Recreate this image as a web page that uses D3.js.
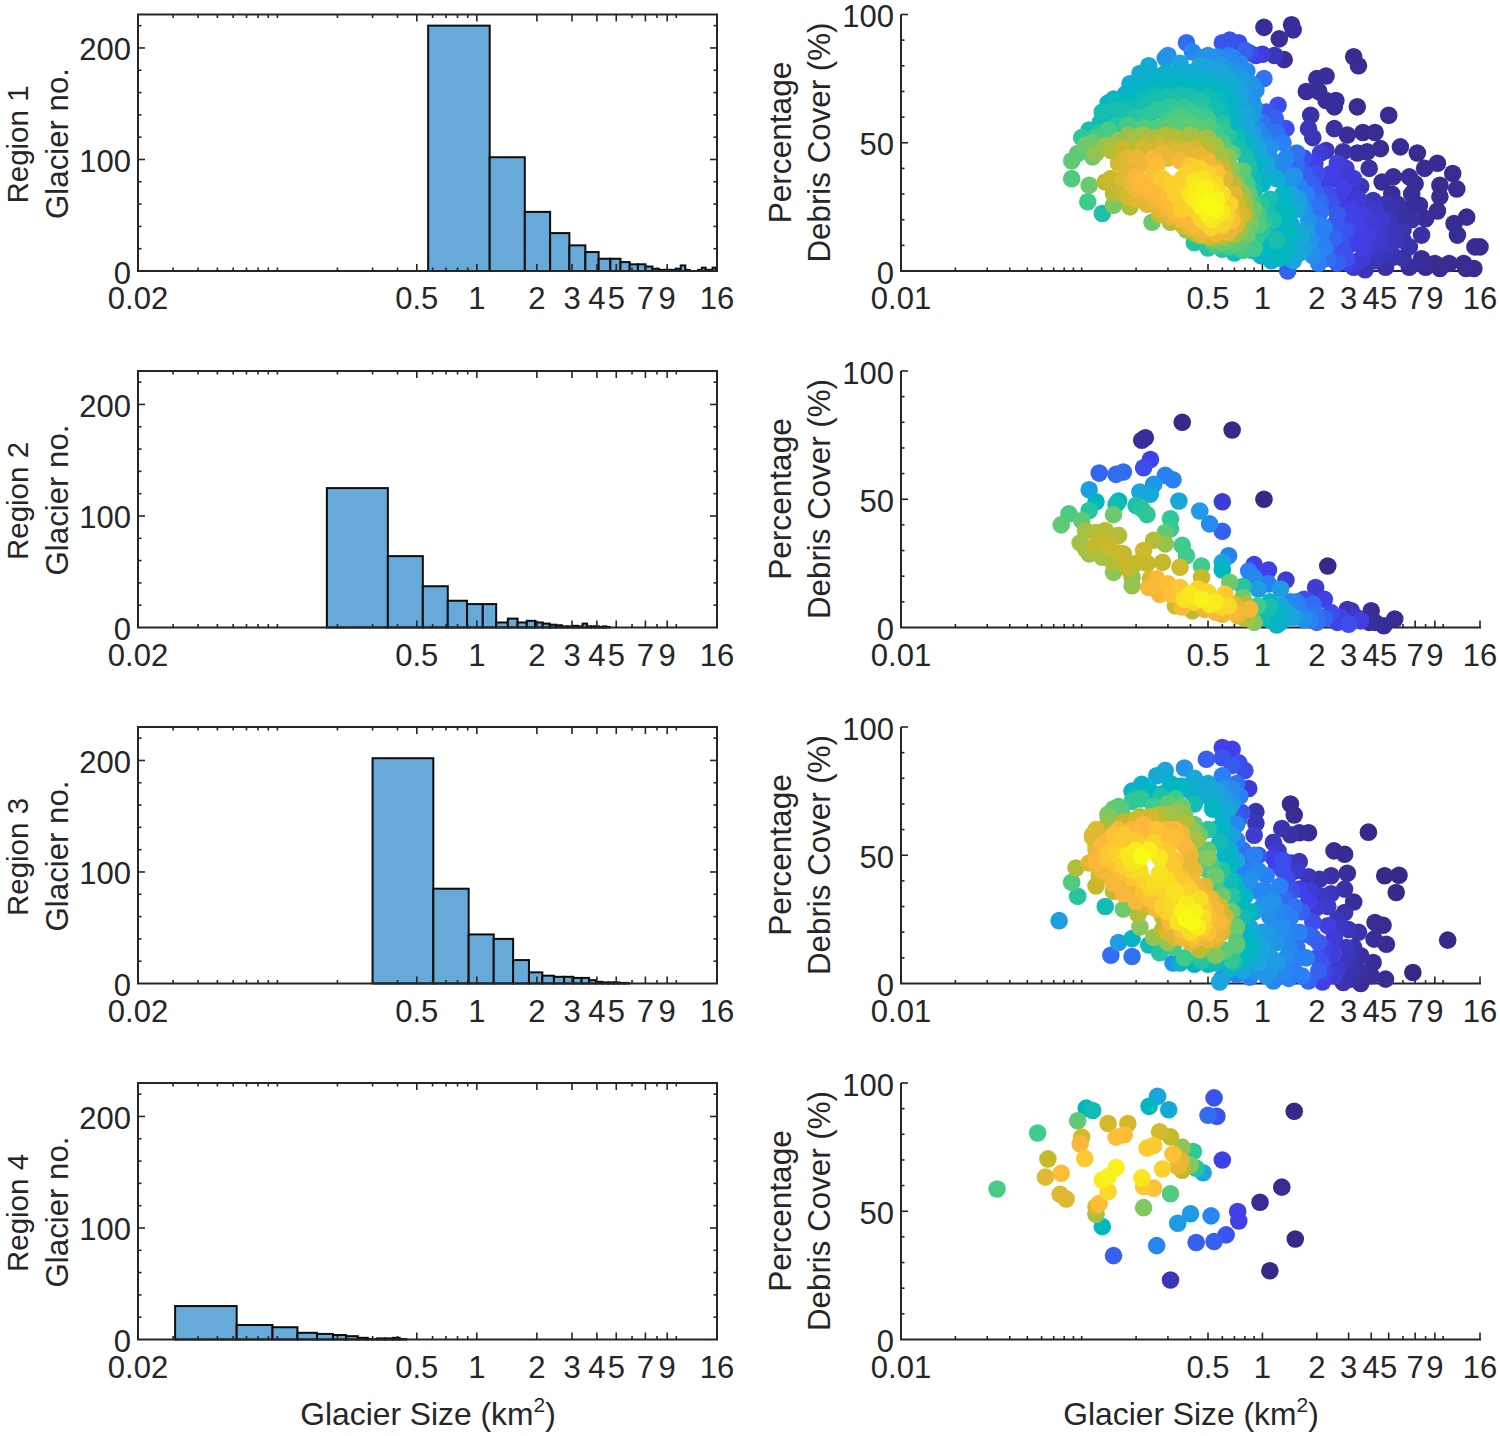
<!DOCTYPE html>
<html><head><meta charset="utf-8"><title>Glacier size and debris cover</title>
<script src="https://cdnjs.cloudflare.com/ajax/libs/d3/7.8.5/d3.min.js"></script>
<style>html,body{margin:0;background:#fff}svg{display:block}text{font-family:"Liberation Sans",Arial,sans-serif;fill:#262626}</style>
</head><body><svg id="c" width="1500" height="1436"></svg>
<script>
const regions=["Region 1","Region 2","Region 3","Region 4"];
const histTickValues=[0.02,0.5,1,2,3,4,5,7,9,16];
const scatterTickValues=[0.01,0.5,1,2,3,4,5,7,9,16];
const minorLogTicks=[0.02,0.03,0.04,0.05,0.06,0.07,0.08,0.09,0.1,0.2,0.3,0.4,0.5,0.6,0.7,0.8,0.9,1,2,3,4,5,6,7,8,9,10];
const histYTicks=[0,100,200];
const scatterYTicks=[0,50,100];
const parulaPositions=[0,.1,.2,.3,.42,.55,.65,.75,.86,.93,1];
const parulaStops=["#352a87","#4140e8","#2a80f5","#1aa5dc","#02b8c0","#3ecb8c","#80c860","#c4b92a","#feb83a","#f8d828","#f8fb14"];

const hist1Edges=[0.57,1.16,1.74,2.33,2.91,3.5,4.08,4.67,5.25,5.84,6.42,7.01,7.59,8.18,8.76,9.35,9.93,10.52,11.1,11.69,12.27,12.86,13.44,14.03,14.61,15.2,15.78];
const hist1Counts=[220,102,53,34,23,17,11,11,8,6,6,4,2,1,1,1,2,5,1,0,0,1,3,1,1,3];
const hist2Edges=[0.177,0.358,0.536,0.715,0.893,1.071,1.25,1.43,1.6,1.78,1.96,2.14,2.32,2.5,2.67,2.85,3.03,3.21,3.39,3.57,3.74,3.92,4.1,4.28,4.46,4.64];
const hist2Counts=[125,64,37,24,21,21,4.5,8,4.5,6,4.5,3.5,2.5,2,1,1,1.5,1,3.5,1,1,1,0.5,1,0.5];
const hist3Edges=[0.3,0.605,0.91,1.215,1.52,1.825,2.13,2.435,2.74,3.045,3.35,3.655,3.96,4.265,4.57,4.875,5.18,5.485,5.79];
const hist3Counts=[202,85,44,40,21,10,7,6,6,5,5,3,1.5,1,1,1,0.5,0.5];
const hist4Edges=[0.0307,0.0625,0.0945,0.126,0.158,0.19,0.221,0.253,0.284,0.316,0.347,0.379,0.41,0.442];
const hist4Counts=[30,13,11,6,5,4,3,1.5,0.4,1,1,1.5,0.4];

// [area km2, debris %, density]
const scatter1=[
[1.02,95,.02],[1.24,90.5,.02],[1.45,96,.02],[1.48,94,.02],[1.32,82.4,.02],[1.17,84,.05],[1,84.5,.08],[0.85,85,.12],
[3.2,83.5,.01],[3.4,80,.01],[2.25,76,.02],[2,75,.02],[1.75,70,.02],[2.05,70,.02],[2.25,66.5,.02],[2.55,66.5,.02],[2.5,64,.02],[3.35,64,.01],[5,60.7,.01],[1.85,60.7,.03],[1.8,55.5,.05],[2.5,55.5,.03],[2.95,53,.02],[3.6,54,.01],[4.2,54,.01],[1.9,52,.05],[2.25,47,.05],[2.8,46.5,.03],[3.35,46,.02],[4.5,47.7,.01],[5.8,48.4,.01],[3.8,46.5,.02],[7.2,46,.01],[9.3,42,.01],[7.9,40,.01],[11.3,38,.01],[9.6,33.4,.01],[11.9,32,.01],[9.6,29,.01],[3.9,40,.03],[5.3,36.7,.02],[4.6,34.7,.02],[6.5,36.7,.02],[7,34,.02],[6.7,30,.02],[7.4,25.6,.02],[9.3,23.4,.01],[8,20.4,.02],[13.5,21,.01],[11.5,18.5,.01],[12,14,.01],[15,9.4,.01],[16,9.4,.01],[7.6,14,.03],[6.7,20,.03],[5.7,22,.03],[4.8,26,.04],[4.1,27.5,.05],[5.1,20,.05],[4,20,.08],[5.4,15,.05],[4.5,11,.07],[6.5,9.4,.04],[7.6,4.8,.02],[9,2.9,.01],[10.8,2.9,.01],[13,2.9,.01],[14.8,1,.01],[13.4,1,.01],[9.6,1,.01],[8,1.5,.01],[6.5,1.5,.02],[4.8,1.5,.03],[3.7,.5,.05],[3.2,1.5,.07],[5.4,5.5,.04],[4,6.8,.06],[4.4,16,.07],[3.6,22,.09],[4.2,24,.07],[5,11,.06],[3.8,14,.09],[4.6,7,.05],[6,16,.04],[5.6,26,.03],[3.4,28,.08],[3.2,36,.08],[2.9,40,.08],[2.6,42,.09],[2.4,38,.1],[2.8,32,.1],[2.3,30,.12],[3.1,24,.1],[3.4,18,.1],[3.1,12,.1],[3.6,9,.09],[2.8,8,.12],[2.9,16,.13],[2.6,22,.14],[2.5,13,.16],[2.3,5,.17],[2.6,3,.15],[2.9,5,.13],[2.2,9,.2],[2.2,17,.2],[2.1,23,.18],[2.1,27,.17],[1.9,34,.15],[1.7,38,.15],[1.7,44,.12],[1.55,46,.18],[1.75,30,.2],[1.8,20,.25],[1.85,12,.26],[1.9,6,.24],[1.6,7,.32],[1.65,14,.33],[1.55,24,.32],[1.45,30,.3],[1.5,37,.25],[1.35,44,.22],[1.3,50,.2],[1.2,54,.18],[1.35,55.5,.12],[1.22,64.6,.12],[1.18,59.4,.15],[1.02,75,.18],[1.1,48,.25],[1.05,42,.32],[1.2,36,.36],[1.3,30,.4],[1.38,22,.42],[1.4,14,.42],[1.38,8,.4],[1.38,0,.15],[1.25,5,.42],[1.2,12,.47],[1.15,20,.48],[1.1,28,.46],[1,34,.4],[0.95,42,.37],[0.87,48.4,.37],[1.05,6,.4],[1,10,.42],
[.38,89,.17],[.66,90,.13],[.6,89,.13],[.74,89,.12],[.41,85.4,.22],[.3,84,.25],[.29,83,.24],[.46,83,.25],[.56,83.5,.24],[.69,83,.22],[.82,78,.23],[.75,81,.22],[.77,75,.28],[.87,73,.26],[.92,70.5,.25],[.65,74.5,.33],
[.235,80,.35],[.21,77,.35],[.185,73,.35],[.175,69,.38],[.14,65.5,.42],[.16,66,.42],[.19,66.5,.42],[.225,70.5,.4],[.26,73,.4],[.295,77.6,.36],[.35,78,.35],[.385,74.4,.37],[.31,72,.42],[.41,77.6,.33],[.5,79,.3],[.58,77.7,.3],[.48,74.4,.36],[.55,70.5,.42],[.5,68,.45],[.46,66,.48],[.4,68,.47],[.34,68.5,.47],[.3,68,.47],[.26,66.6,.47],[.225,64.6,.47],[.19,62.7,.45],[.165,60,.45],[.145,61.4,.43],[.127,58,.44],[.11,55,.46],[.125,54,.5],[.155,56.8,.5],[.26,62.7,.52],[.31,64,.52],[.37,64,.52],[.45,63.3,.5],[.55,64,.46],[.65,60.3,.4],[.7,56,.38],[.75,53.6,.37],[.6,57.5,.5],[.5,58.8,.55],[.43,60,.55],[.35,60.7,.57],[.3,58.8,.55],[.26,55.5,.58],[.36,56.8,.6],[.45,55.5,.6],[.55,54.2,.55],[.65,52.3,.5],[.82,61.4,.3],[.9,64,.26],[.8,58,.3],[.88,54,.28],[.74,48,.47],[.82,42,.48],[.9,36,.44],[.85,30,.5],[.98,26,.5],[1.02,19,.52],[.92,13,.52],[.88,8,.48],[.7,7,.45],[.6,8.5,.5],[.5,9,.5],[.42,11,.5],
[.088,43,.6],[.088,36,.58],[.11,33.4,.62],[.108,27,.55],[.13,22.4,.48],[.135,34.7,.75],[.15,25.6,.64],[.185,25,.72],[.245,19,.62],[.105,49,.62],[.095,45.8,.6],[.115,44.5,.62],[.135,49,.68],[.18,53,.68],[.16,51,.68],[.2,48.4,.72],[.295,53,.72],[.36,51,.73],[.45,51,.72],[.55,49,.7],[.65,44.5,.65],[.78,39,.6],[.15,30,.72],[.145,36,.76],[.18,29,.78],[.165,46,.72],[.24,51,.72],[.72,34,.62],[.84,30,.6],[.9,24,.62],[.86,19,.64],[.82,14,.62],[.72,11,.6],[.6,11,.62],[.52,12,.6],[.44,14,.62],[.38,16,.68],[.31,19,.72],[.27,22,.76],
[.2,37,.85],[.22,42,.83],[.25,44,.85],[.28,46,.82],[.24,35,.86],[.27,32,.86],[.3,30,.87],[.32,27,.87],[.34,24,.87],[.38,21,.86],[.42,18,.85],[.48,16,.84],[.55,14.5,.83],[.65,15,.82],[.72,18,.8],[.78,22,.78],[.72,26,.78],[.33,46,.8],[.38,47,.8],[.45,45,.82],[.5,43,.84],[.55,40,.82],[.62,36,.8],[.7,30,.8],[.22,30,.83],[.2,32,.84],[.26,27,.82],[.29,24,.82],[.31,21,.8],[.36,18,.78],[.42,15,.75],[.62,38,.76],[.69,34,.74],[.75,27,.74],[.8,26,.7],
[.36,36,.92],[.38,38,.92],[.4,41,.9],[.45,40,.92],[.5,38,.92],[.35,32,.9],[.38,27,.9],[.42,24,.92],[.46,20,.92],[.52,17,.92],[.6,18,.92],[.63,21,.92],[.66,26,.92],[.6,30,.94],[.55,34,.93],[.25,38,.88],[.28,36,.9],[.31,34,.91],[.33,30,.92],[.36,24,.91],[.56,38,.88],[.26,41,.87],[.68,20,.88],
[.46,30,.98],[.5,27,1],[.52,25,1],[.48,32,.98],[.44,33,.97],[.55,24,.99],[.5,22,.98],[.42,35,.96],[.46,25,.99],[.56,28,.98],[.4,30,.96],[.53,20,.96],[.6,23,.96],[.47,36,.95],[.52,32,.96],[.42,28,.97],
[.24,76,.36],[.27,76,.37],[.33,75,.38],[.39,77,.35],[.45,76,.34],[.53,75,.33],[.62,76,.3],[.7,75,.28],
[.2,71,.38],[.23,73,.38],[.28,72,.4],[.34,72,.42],[.39,71,.42],[.44,72,.4],[.5,73,.38],[.59,71,.36],[.66,71,.36],[.72,72,.3],[.8,70,.26],
[.15,67,.43],[.18,65,.43],[.22,67,.44],[.25,69,.44],[.28,65,.46],[.32,66,.48],[.37,68,.47],[.43,65,.48],[.58,67,.43],[.62,68,.4],[.68,66,.38],[.76,68,.3],[.84,66,.26],
[.13,62,.46],[.155,63,.46],[.17,62,.47],[.2,60,.5],[.24,61,.52],[.28,62,.52],[.34,63,.53],[.4,62,.53],[.48,61,.53],[.6,62,.44],[.7,63,.36],[.78,61,.32],[.86,60,.27],
[.1,52,.52],[.12,52,.56],[.14,55,.56],[.18,57,.56],[.22,56,.58],[.3,56,.6],[.33,58,.58],[.4,57,.6],[.5,56,.58],[.6,55,.52],[.7,52,.42],[.85,52,.3],[.95,55,.22],
[.115,50,.62],[.15,49,.7],[.2,52,.7],[.22,53,.7],[.26,52,.72],[.33,52,.73],[.4,53,.7],[.5,52,.68],[.6,50,.58],[.72,52,.44],[.8,50,.38],[.92,50,.28],[1.02,52,.22],
[.12,46,.68],[.145,47,.72],[.17,48,.76],[.22,48,.78],[.27,49,.78],[.31,48,.78],[.42,48,.78],[.5,47,.74],[.6,45,.7],[.68,46,.58],[.8,45,.46],[.95,47,.3],[1.1,44,.25],
[.16,42,.78],[.18,44,.8],[.2,44,.82],[.3,44,.82],[.35,43,.85],[.6,41,.74],[.68,40,.66],[.75,38,.58],[.85,40,.46],[.95,37,.38],[1.1,38,.3],[1.2,42,.22],[1.4,41,.17],
[.17,36,.8],[.19,34,.83],[.18,40,.8],[.21,35,.86],[.23,33,.86],[.2,28,.8],[.23,26,.8],[.25,30,.85],[.28,28,.86],[.16,33,.76],[.3,26,.85],[.33,22,.85],[.27,24,.8],[.36,20,.84],[.4,17,.82],[.46,14,.8],[.52,13,.76],[.6,13.5,.74],[.7,14,.7],[.75,16,.7],
[.72,22,.8],[.78,25,.7],[.82,22,.68],[.88,27,.55],[.78,30,.68],[.74,32,.68],[.82,34,.56],[.9,31,.46],
[.95,22,.55],[1,16,.5],[1.05,24,.47],[.9,9,.55],[.78,8,.55],[.75,10,.58],[.66,9.5,.56],[.55,10,.56],[.95,18,.58],[1.08,14,.44],[1.15,9,.42],[1.12,4,.36],[.98,6,.4],[1.25,17,.4],[1.3,11,.38],[1.45,18,.36],[1.52,12,.32],[1.48,4,.3],[1.7,9,.28],[1.75,16,.28],[1.7,24,.26],[1.6,28,.28],[1.35,26,.38],[1.25,24,.42],[1.4,35,.26],[1.6,33,.2],[1.3,41,.22],[1.55,41,.17],[1.9,26,.18],[2,30,.15],[2.05,18,.2],[2.1,13,.2],[2.05,3,.2],[2.3,10,.16],[2.4,26,.13],[2.5,18,.14],[2.7,12,.13],[2.7,7,.13],[3,19,.1],[3,10,.09],[2,38,.12],[2.1,46,.08],[1.95,42,.1],[2.3,35,.09],[2.6,36,.08],[2.6,29,.1],[2.9,26,.08],[3.2,30,.06],[3.5,33,.05],[3.3,15,.09],[3.5,12,.09],[3.9,10,.08],[3.9,25,.06],[4.2,18,.08],[4.6,20,.07],[4.4,13,.07],[4.2,4,.05],[5,8,.05],[5.5,12,.05],[5,24,.04],[5.2,30,.02],[6,12,.04],[6.4,24,.02],[6,5,.03],[3.6,5,.08],[3,3,.1],[3.4,4,.08],
[.75,70,.28],[.82,72,.24],[.88,66,.24],[.82,56,.3],[.9,60,.22],[1,58,.18],[1.05,62,.14],[1.1,54,.18],[.78,50,.4],[.7,78,.25],[.8,86,.15],[.65,84,.2],[.92,84,.1],[.45,80,.3],[.5,84,.25],[.6,80,.27],[.68,78,.24],[.35,81,.3]
];
const scatter2=[
[.36,80,0],[.68,77,0],[1.02,50,0],[2.3,24,0],[.215,73,.02],[.225,74,.02],[.24,65.5,.1],[.22,62.3,.12],[.125,60.2,.16],[.155,59.7,.17],[.17,60.6,.17],[.29,59.3,.2],[.32,57.6,.2],[.25,55.8,.26],[.21,52.8,.3],[.24,52,.32],[.11,53.7,.28],[.345,49.3,.32],[.6,49,.08],[.45,45.4,.27],[.51,40.4,.23],[.6,37.5,.15],[.65,28,.2],[.6,25.4,.3],[.6,22.4,.42],[.9,24.5,.1],[1.08,22.4,.1],[.84,22,.2],[.9,19.3,.22],[1.35,18.5,.08],[1.08,17,.2],[.95,15,.28],[1.97,15.6,.08],[1.26,15,.27],
[.12,49,.42],[.16,49.3,.42],[.155,48,.45],[.11,45.6,.5],[.2,47.6,.48],[.215,46.3,.5],[.23,44,.52],[.085,44.3,.57],[.077,40,.6],[.1,41.7,.6],[.15,44,.62],[.31,42.4,.52],[.31,38.5,.53],[.29,37,.6],[.36,32,.55],[.38,28,.55],[.46,24,.55],[.66,17.6,.62],[.78,16,.5],[.78,11.7,.62],[.94,8.5,.55],[1.1,8,.47],[1,4,.45],[1.1,3,.42],[1.2,1,.38],
[.105,37.8,.7],[.098,33,.7],[.105,30.6,.7],[.11,28.7,.68],[.13,27.4,.7],[.135,37.8,.73],[.16,35.9,.73],[.12,32.6,.75],[.14,32,.76],[.16,29,.76],[.17,28.7,.74],[.25,34,.72],[.29,32.6,.68],[.22,30,.77],[.2,25,.75],[.28,25.4,.75],[.35,23.5,.77],[.23,25,.75],[.15,21.5,.66],[.19,19.6,.68],[.19,16.3,.68],[.46,19.6,.76],[.9,2,.66],[.41,6.5,.74],[.33,8.5,.77],
[.26,19,.85],[.3,17,.87],[.235,15.6,.85],[.27,13,.84],[.35,15.6,.9],[.4,13,.96],[.37,11,.95],[.42,9.8,.92],[.5,13.7,.93],[.62,13,.9],[.51,9,.96],[.65,8.5,.93],[.85,7.2,.84],[.6,5.2,.82],[.73,4.6,.8],[.46,11,.98],[.55,10,.97],[.7,6,.85],[.44,15,.92],[.31,13,.88],[.36,8,.86],
[1.7,11,.12],[2.2,11,.1],[1.43,10,.22],[1.26,8.5,.3],[1.15,7,.36],[1.6,7,.2],[1.95,6,.18],[2,2,.18],[2.4,5.8,.12],[2.95,7,.05],[3.1,6.5,.05],[3.5,2.6,.09],[3,1.3,.12],[2.6,2,.1],[1.43,4,.3],[1.7,3,.24],[1.26,2,.38],[4,6.5,.02],[5.4,3.3,.01],[4.2,2,.02],[4.7,.7,.02],[3.9,2,.02],[2.2,3.5,.16],[1.9,9,.17],[1.55,10,.2],[2.7,4,.1],[3.3,4,.07],
[1.1,5,.42],[1.2,6,.38],[1.35,6,.32],[1.5,4,.28],[1.85,3,.2],[1.1,10,.4],[.8,9,.72],[.7,9,.8],[.75,6,.82],[.6,8,.92],[.8,3.5,.72],[.55,6,.85],[.48,7,.82],[.42,12,.95],[.47,14,.92],[.33,13,.88],[.28,16,.82],[.24,19,.78],[.15,25,.72],[.18,23,.75],[.13,35,.73],[.12,37,.72],[.115,30,.72]
];
const scatter3=[
[10.6,16.9,0],[6.8,4.3,0],[3.86,59,0],[4.75,42,0],[5.7,42.2,0],[5.5,35.5,0],[4.2,23.8,.01],[4.65,22.7,.01],[4.15,17.3,.02],[4.85,15.3,.01],[4.1,8.2,.02],[3.5,10.8,.03],[3,9.5,.05],[4.8,1.7,.01],[4,3,.02],[3.5,0,.02],[2.8,.4,.04],[3.1,1.7,.03],[2.49,51.7,.01],[2.85,50.4,.01],[2.95,43,.02],[2.4,42,.03],[2.07,40.6,.04],[1.8,41.6,.05],[2.85,36.8,.03],[3.2,31.8,.02],[2.85,27.7,.04],[2.3,30,.07],[2,29.6,.08],[2.3,22.5,.09],[3,21,.05],[3.4,20,.04],[2.5,18,.08],[2.9,14,.06],[2.2,14.7,.1],[1.43,70,.01],[1.5,65.7,.01],[1.8,58.8,.01],[1.6,58.8,.02],[1.43,58,.03],[1.28,60.4,.04],[1.15,55,.06],[1.22,51.7,.07],[1.6,47.5,.05],[1.45,47,.06],[.92,67,.04],[.92,62.5,.05],[.9,57.8,.08],[.84,76,.08],[1.15,49,.1],[1.2,46,.1],[2.6,6,.07],[2.2,5,.11],[2.4,11,.09],[3.1,5,.04],[2,10,.13],[2.6,25,.05],[2.1,34,.06],[2.4,35,.05],
[.8,83,.12],[.74,86,.12],[.6,92,.1],[.68,91.3,.1],[.68,85,.14],[.6,88,.13],[.49,87.4,.15],[.6,81,.2],[.77,66.6,.13],[.74,64,.14],[1.37,40.6,.12],[1.6,36.8,.1],[1.33,33,.17],[1.8,32,.1],[1.43,25.7,.2],[1.75,19.2,.16],[2.05,16,.14],[1.75,10,.2],[2.05,5,.15],[1.65,3,.2],[2.15,.6,.1],[1.8,1,.16],[1.3,48,.12],[1.25,38,.2],[1.15,32,.25],[1.05,42,.2],[.9,50,.2],[.95,44,.22],[1.1,26,.24],[1.28,22,.24],[1.2,16,.26],[1.4,14,.22],[1.48,7,.2],[1.3,4,.22],[1.05,3,.25],[1.12,10,.28],[1,14,.3],[.95,8,.3],[1.6,20,.2],[1.5,30,.18],
[.37,84,.25],[.29,83,.32],[.26,81,.33],[.215,77.7,.36],[.19,75,.4],[.42,80,.33],[.31,78,.4],[.355,77,.42],[.5,78,.33],[.56,75,.3],[.62,72,.27],[.65,68,.33],[.6,62,.38],[.53,68,.42],[.5,60,.5],[.58,55,.45],[.66,52,.37],[.72,48,.3],[.7,40,.4],[.8,34,.38],[.85,28,.42],[.82,20,.4],[.88,14,.42],[.77,10,.42],[.7,8,.45],[.58,.6,.3],[.6,2.2,.26],[.66,5.5,.35],[.5,7.5,.42],[.42,7.5,.4],[.35,8,.35],[.32,8,.25],
[.16,16,.28],[.145,11,.17],[.19,10.5,.18],[.19,17.5,.4],[.075,24.5,.28],[.135,30,.45],[.095,34,.5],[.088,39.5,.58],[.093,45,.72],[.17,29,.62],
[.235,15,.45],[.27,12,.5],[.32,14,.55],[.37,10,.55],[.46,9,.5],[.45,13,.72],[.55,11,.65],[.62,13,.6],[.72,15,.6],[.68,9,.52],
[.21,22,.66],[.25,18,.68],[.3,16,.68],[.205,27,.72],[.72,22,.62],[.68,28,.62],[.6,34,.62],[.55,40,.56],[.52,46,.55],[.5,52,.6],[.45,58,.62],[.42,62,.58],[.36,69,.62],[.3,70,.6],[.25,69,.55],[.21,72,.52],[.17,65,.6],[.165,68,.58],[.14,62,.68],[.12,54,.75],[.13,60,.72],[.21,65,.7],[.26,63,.75],[.36,62,.72],[.43,56,.7],[.5,49,.66],[.55,42,.62],
[.11,47,.8],[.12,52,.82],[.115,57,.8],[.14,56,.84],[.16,60,.85],[.19,60,.86],[.23,59,.86],[.28,58,.87],[.33,57,.87],[.37,54,.85],[.4,50,.82],[.42,44,.82],[.48,38,.8],[.52,33,.82],[.58,30,.78],[.62,26,.78],[.6,20,.78],[.55,17,.78],[.47,15,.75],[.4,16,.8],[.33,18,.78],[.28,21,.75],[.28,26,.72],[.23,30,.78],[.2,35,.8],[.18,38,.82],[.14,42,.8],[.125,42,.77],[.12,38,.75],[.15,36,.74],
[.14,48,.88],[.15,52,.9],[.17,55,.9],[.2,56,.9],[.25,55,.92],[.3,52,.9],[.33,48,.88],[.35,42,.88],[.38,38,.9],[.42,34,.9],[.47,30,.9],[.5,26,.88],[.5,20,.88],[.42,19,.88],[.36,21,.88],[.31,24,.85],[.3,30,.87],[.27,34,.88],[.22,36,.88],[.19,41,.88],[.165,44,.88],[.155,46,.87],[.58,24,.85],
[.18,50,.96],[.2,52,.97],[.215,49.7,1],[.235,52,.98],[.27,49,.96],[.27,43,.95],[.25,39,.94],[.21,44,.94],[.19,47,.95],[.3,40,.94],[.33,36,.95],[.38,31,.97],[.42,28,.98],[.38,25,1],[.41,24,1],[.44,22,.97],[.36,28,.98],[.34,24,.95],[.3,35,.93],
[.2,73,.45],[.24,75,.42],[.28,74,.42],[.33,74,.4],[.4,75,.37],[.46,76,.33],[.5,73,.33],[.53,71,.36],[.42,70,.45],[.37,66,.65],
[.14,66,.62],[.15,68,.6],[.16,69,.58],[.19,71,.52],[.215,72,.5],[.275,73,.48],[.33,72,.55],
[.14,65,.65],[.17,63,.75],[.2,64,.78],[.24,65,.78],[.27,66,.72],[.31,66,.7],[.34,67,.68],[.38,63,.7],[.41,60,.66],[.43,56,.62],[.44,50,.6],[.47,46,.58],[.5,44,.55],[.55,37,.55],[.6,30,.55],[.65,24,.55],[.7,20,.55],[.72,16,.52],[.68,12,.5],[.55,8,.45],[.78,26,.45],[.74,32,.42],
[.115,58,.8],[.12,60,.8],[.13,54,.86],[.15,58,.88],[.17,58,.9],[.22,62,.85],[.26,60,.88],[.3,60,.85],[.33,60,.85],[.36,58,.83],[.39,52,.82],[.4,46,.8],[.41,40,.84],[.45,36,.84],[.5,33,.84],[.55,29,.84],[.6,23,.8],[.56,19,.82],[.5,17,.82],[.42,17,.84],[.36,18,.84],[.3,20,.8],[.3,26,.84],[.26,29,.85],[.24,33,.88],[.2,32,.85],[.17,35,.85],[.15,39,.85],[.13,44,.84],[.12,48,.85],[.14,51,.9],
[.16,50,.92],[.17,46,.92],[.19,44,.92],[.22,40,.92],[.24,37,.92],[.27,37,.92],[.28,30,.92],[.3,28,.92],[.35,32,.94],[.4,36,.92],[.45,33,.94],[.47,26,.94],[.47,22,.92],[.4,20,.94],[.32,30,.93],[.36,40,.9],[.32,46,.9],[.28,52,.9],[.2,48,.96],
[.55,60,.42],[.6,66,.32],[.62,58,.35],[.68,58,.28],[.62,50,.4],[.66,46,.42],[.6,44,.5],[.66,40,.45],[.72,36,.42],[.68,34,.5],[.75,30,.4],[.8,28,.36],[.78,22,.4],[.85,22,.32],[.9,18,.32],[.78,14,.42],[.85,10,.35],[.92,5,.25],[.78,5,.3],[1,20,.27],[1.05,15,.27],[1.1,20,.26],[.9,28,.28],[1,30,.26],[.95,36,.22],[.85,40,.25],[1.05,36,.22],[1.2,28,.22],[1.3,28,.2],[1.35,18,.22],[1.45,20,.2],[1.55,14,.18],[1.2,8,.27],[1.35,10,.24],[1.55,10,.2],[1.1,5,.26],[1.4,2,.2],[1.15,1,.22],[.85,2.5,.2],[.72,3.5,.2],
[.72,56,.2],[.78,52,.18],[.72,78,.18],[.75,73,.2],[.68,76,.23],[.6,76,.25],[.68,70,.26],[.72,62,.22],[.82,46,.18],[.78,44,.2],[.95,50,.14],[1.3,44,.12],[1.45,36,.13],[1.65,28,.15],[1.55,44,.07],[1.9,24,.12],[1.9,18,.15],[2.1,9,.13],[2.5,3,.08],[2.3,34,.06],[2.7,22,.06],[2.5,12,.09],[3.2,14,.04],[3.4,5,.03],[1.85,36,.08]
];
const scatter4=[
[.057,80.5,.55],[.034,58.7,.57],[.065,70.4,.75],[.063,63.3,.8],[.077,64.8,.87],[.076,56.6,.8],[.082,54.8,.8],[.095,85.3,.6],[.1,78.9,.78],[.098,76.3,.85],[.104,70.6,.9],[.106,90.2,.42],[.115,89.3,.45],[.14,84.2,.78],[.18,84.2,.78],[.155,78.9,.87],[.172,79.8,.87],[.236,90.9,.42],[.263,94.8,.3],[.303,89.6,.33],[.27,81,.77],[.31,79,.75],[.25,75.6,.9],[.23,74.6,.9],[.36,75,.67],[.415,73.3,.52],[.32,72.3,.88],[.355,70,.8],[.34,67.4,.82],[.36,66,.75],[.4,68,.65],[.43,66.8,.5],[.47,65,.3],[.28,66.5,.92],[.155,67,.98],[.14,63.5,.98],[.13,62.2,.97],[.215,63,.96],[.22,59.6,.9],[.25,59,.88],[.14,57.7,.93],[.31,56.8,.58],[.125,53,.87],[.12,51.8,.8],[.12,48.8,.7],[.13,44,.42],[.22,51.4,.65],[.15,32.7,.15],[.26,36.6,.22],[.4,49,.27],[.34,45.3,.27],[.52,48.2,.22],[.43,37.8,.15],[.54,38.2,.15],[.63,40.8,.13],[.73,49.9,.1],[.74,46.2,.1],[.31,23.2,.05],[.97,53.5,.01],[1.28,59.4,.01],[1.5,89,0],[1.52,39.2,0],[1.1,26.8,0],[.6,70,.1],[.54,94.2,.13],[.5,87.4,.17],[.56,87,.13]
];

const svg=d3.select("#c");
const tops=[14.5,371,727,1083];
const H=256.5;
const hx=d3.scaleLog().domain([0.02,16]).range([138,717]);
const sx=d3.scaleLog().domain([0.01,16]).range([901,1480]);
const colorScale=d3.scaleLinear().domain(parulaPositions).range(parulaStops).interpolate(d3.interpolateRgb);
const axisColor="#262626";
const majorX=new Set([0.5,1,2,3,4,5,7,9]);

function ticks(g,x,y,top,bottom,left,right,withTop,withRight,yMajor,yMinor){
  const all=minorLogTicks.concat([16]);
  all.forEach(v=>{
    const len=majorX.has(v)||v===16?7:3.5;
    g.append("line").attr("x1",x(v)).attr("x2",x(v)).attr("y1",bottom).attr("y2",bottom-len).attr("stroke",axisColor).attr("stroke-width",1.6);
    if(withTop) g.append("line").attr("x1",x(v)).attr("x2",x(v)).attr("y1",top).attr("y2",top+len).attr("stroke",axisColor).attr("stroke-width",1.6);
  });
  yMinor.forEach(v=>{
    const len=yMajor.includes(v)?7:3.5;
    g.append("line").attr("x1",left).attr("x2",left+len).attr("y1",y(v)).attr("y2",y(v)).attr("stroke",axisColor).attr("stroke-width",1.6);
    if(withRight) g.append("line").attr("x1",right).attr("x2",right-len).attr("y1",y(v)).attr("y2",y(v)).attr("stroke",axisColor).attr("stroke-width",1.6);
  });
}
function labels(g,x,y,xVals,yVals,bottom,left){
  xVals.forEach(v=>g.append("text").attr("x",x(v)).attr("y",bottom+38).attr("text-anchor","middle").attr("font-size",31).text(v));
  yVals.forEach(v=>g.append("text").attr("x",left-7).attr("y",y(v)+12.5).attr("text-anchor","end").attr("font-size",31).text(v));
}
function vText(g,x,cy,t,size){
  g.append("text").attr("transform",`translate(${x},${cy}) rotate(-90)`).attr("text-anchor","middle").attr("font-size",size).text(t);
}
function xTitle(g,cx,y){
  const t=g.append("text").attr("x",cx).attr("y",y).attr("text-anchor","middle").attr("font-size",31.8);
  t.append("tspan").text("Glacier Size (km");
  t.append("tspan").attr("dy",-13).attr("font-size",21).text("2");
  t.append("tspan").attr("dy",13).text(")");
}
const histE=[hist1Edges,hist2Edges,hist3Edges,hist4Edges];
const histC=[hist1Counts,hist2Counts,hist3Counts,hist4Counts];
const scat=[scatter1,scatter2,scatter3,scatter4];
regions.forEach((name,i)=>{
  const top=tops[i],bottom=top+H;
  const g=svg.append("g");
  const y=d3.scaleLinear().domain([0,230]).range([bottom,top]);
  g.selectAll("rect.bar").data(histC[i]).join("rect").attr("class","bar")
    .attr("x",(d,k)=>hx(histE[i][k])).attr("width",(d,k)=>hx(histE[i][k+1])-hx(histE[i][k]))
    .attr("y",d=>y(d)).attr("height",d=>bottom-y(d))
    .attr("fill","#67a9d8").attr("stroke","#0d0d0d").attr("stroke-width",2);
  g.append("rect").attr("x",138).attr("y",top).attr("width",579).attr("height",H).attr("fill","none").attr("stroke",axisColor).attr("stroke-width",2);
  ticks(g,hx,y,top,bottom,138,717,true,true,histYTicks,d3.range(0,221,20).filter(v=>v>0));
  labels(g,hx,y,histTickValues,histYTicks,bottom,138);
  vText(g,28,top+130,name,29.5);
  vText(g,68,top+129,"Glacier no.",31.2);

  const g2=svg.append("g");
  const y2=d3.scaleLinear().domain([0,100]).range([bottom,top]);
  g2.append("line").attr("x1",901).attr("x2",901).attr("y1",top).attr("y2",bottom).attr("stroke",axisColor).attr("stroke-width",2);
  g2.append("line").attr("x1",900).attr("x2",1481).attr("y1",bottom).attr("y2",bottom).attr("stroke",axisColor).attr("stroke-width",2);
  ticks(g2,sx,y2,top,bottom,901,1480,false,false,scatterYTicks,d3.range(10,101,10));
  const pts=scat[i].slice().sort((a,b)=>a[2]-b[2]);
  g2.selectAll("circle").data(pts).join("circle")
    .attr("cx",d=>sx(d[0])).attr("cy",d=>y2(d[1])).attr("r",8.8).attr("fill",d=>colorScale(d[2]));
  labels(g2,sx,y2,scatterTickValues,scatterYTicks,bottom,901);
  vText(g2,791,top+128,"Percentage",31.6);
  vText(g2,830,top+128,"Debris Cover (%)",31.3);
});
xTitle(svg,428,1425);
xTitle(svg,1191,1425);
</script></body></html>
